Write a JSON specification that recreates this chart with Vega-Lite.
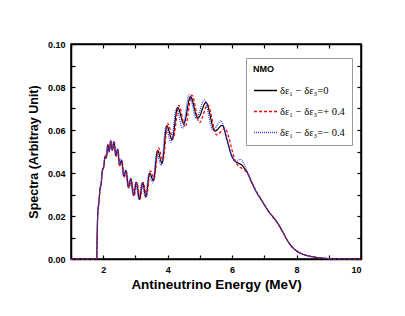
{
"$schema":"https://vega.github.io/schema/vega-lite/v6.json",
"width":290,"height":215,
"autosize":{"type":"none"},
"padding":{"left":71,"top":44,"right":44,"bottom":57},
"background":"white",
"config":{
"view":{"stroke":"black","strokeWidth":1.5},
"font":"Liberation Sans",
"axis":{"grid":false,"domainColor":"black","domainWidth":1.5,"tickColor":"black","tickWidth":1.2,"tickSize":-4,"labelFont":"Liberation Sans","labelFontWeight":"bold","labelFontSize":9,"labelColor":"black","labelPadding":10,"titleFont":"Liberation Sans","titleFontWeight":"bold","titleColor":"black","titleFontSize":13.5},
"legend":{"orient":"none","legendX":175,"legendY":14,"fillColor":"white","strokeColor":"#999999","padding":7,"titleFontSize":9,"titleFontWeight":"bold","titleColor":"black","titleFont":"Liberation Sans","titlePadding":4,"labelFont":"Liberation Serif","labelFontSize":10.5,"labelColor":"black","symbolType":"stroke","symbolStrokeWidth":1.3,"symbolSize":529,"rowPadding":3,"labelOffset":2,"labelLimit":200}
},
"data":{"values":[
{"s":"a","E":1.0,"v":0},{"s":"a","E":1.8,"v":0},{"s":"a","E":1.806,"v":0.006},{"s":"a","E":1.8325,"v":0.0215},{"s":"a","E":1.8661,"v":0.0265},{"s":"a","E":1.9008,"v":0.0325},{"s":"a","E":1.937,"v":0.035},{"s":"a","E":1.9744,"v":0.0414},{"s":"a","E":2.0134,"v":0.0425},{"s":"a","E":2.054,"v":0.0476},{"s":"a","E":2.0962,"v":0.047},{"s":"a","E":2.1402,"v":0.053},{"s":"a","E":2.186,"v":0.0499},{"s":"a","E":2.2339,"v":0.055},{"s":"a","E":2.2839,"v":0.0506},{"s":"a","E":2.3362,"v":0.0545},{"s":"a","E":2.391,"v":0.048},{"s":"a","E":2.4484,"v":0.051},{"s":"a","E":2.5086,"v":0.0435},{"s":"a","E":2.5719,"v":0.0459},{"s":"a","E":2.6384,"v":0.0385},{"s":"a","E":2.7084,"v":0.0411},{"s":"a","E":2.7823,"v":0.0332},{"s":"a","E":2.8604,"v":0.0373},{"s":"a","E":2.943,"v":0.0295},{"s":"a","E":3.0303,"v":0.0357},{"s":"a","E":3.123,"v":0.0278},{"s":"a","E":3.2217,"v":0.0355},{"s":"a","E":3.3268,"v":0.029},{"s":"a","E":3.439,"v":0.04},{"s":"a","E":3.559,"v":0.0365},{"s":"a","E":3.6876,"v":0.0505},{"s":"a","E":3.826,"v":0.0445},{"s":"a","E":3.975,"v":0.062},{"s":"a","E":4.1363,"v":0.0555},{"s":"a","E":4.311,"v":0.0705},{"s":"a","E":4.5013,"v":0.063},{"s":"a","E":4.709,"v":0.0755},{"s":"a","E":4.937,"v":0.0655},{"s":"a","E":5.188,"v":0.0728},{"s":"a","E":5.466,"v":0.0595},{"s":"a","E":5.7,"v":0.0622},{"s":"a","E":5.83,"v":0.056},{"s":"a","E":5.99,"v":0.0478},{"s":"a","E":6.09,"v":0.0455},{"s":"a","E":6.2,"v":0.0445},{"s":"a","E":6.3,"v":0.0437},{"s":"a","E":6.4,"v":0.0418},{"s":"a","E":6.5,"v":0.0392},{"s":"a","E":6.6,"v":0.0358},{"s":"a","E":6.7,"v":0.0327},{"s":"a","E":6.8,"v":0.03},{"s":"a","E":6.9,"v":0.0276},{"s":"a","E":7.0,"v":0.0252},{"s":"a","E":7.1,"v":0.0228},{"s":"a","E":7.2,"v":0.0208},{"s":"a","E":7.3,"v":0.019},{"s":"a","E":7.4,"v":0.017},{"s":"a","E":7.5,"v":0.0145},{"s":"a","E":7.6,"v":0.0118},{"s":"a","E":7.7,"v":0.009},{"s":"a","E":7.8,"v":0.0067},{"s":"a","E":7.9,"v":0.005},{"s":"a","E":8.0,"v":0.0037},{"s":"a","E":8.2,"v":0.0022},{"s":"a","E":8.4,"v":0.0013},{"s":"a","E":8.6,"v":0.0008},{"s":"a","E":8.8,"v":0.0004},{"s":"a","E":9.0,"v":0.0002},{"s":"a","E":9.3,"v":0},{"s":"a","E":10,"v":0},
{"s":"b","E":1.0,"v":0},{"s":"b","E":1.8,"v":0},{"s":"b","E":1.806,"v":0.006},{"s":"b","E":1.8392,"v":0.0225},{"s":"b","E":1.8729,"v":0.0275},{"s":"b","E":1.908,"v":0.0335},{"s":"b","E":1.9443,"v":0.036},{"s":"b","E":1.9821,"v":0.042},{"s":"b","E":2.0214,"v":0.043},{"s":"b","E":2.0623,"v":0.0483},{"s":"b","E":2.1048,"v":0.0474},{"s":"b","E":2.1492,"v":0.0533},{"s":"b","E":2.1954,"v":0.0501},{"s":"b","E":2.2437,"v":0.055},{"s":"b","E":2.2942,"v":0.0505},{"s":"b","E":2.347,"v":0.0542},{"s":"b","E":2.4023,"v":0.0477},{"s":"b","E":2.4602,"v":0.0506},{"s":"b","E":2.521,"v":0.0431},{"s":"b","E":2.5849,"v":0.0455},{"s":"b","E":2.6521,"v":0.038},{"s":"b","E":2.7229,"v":0.0405},{"s":"b","E":2.7976,"v":0.0329},{"s":"b","E":2.8765,"v":0.037},{"s":"b","E":2.96,"v":0.0293},{"s":"b","E":3.0484,"v":0.0356},{"s":"b","E":3.1423,"v":0.0278},{"s":"b","E":3.2422,"v":0.0357},{"s":"b","E":3.3487,"v":0.0295},{"s":"b","E":3.4623,"v":0.041},{"s":"b","E":3.584,"v":0.0375},{"s":"b","E":3.7145,"v":0.0517},{"s":"b","E":3.8549,"v":0.046},{"s":"b","E":4.0063,"v":0.063},{"s":"b","E":4.1701,"v":0.056},{"s":"b","E":4.348,"v":0.0715},{"s":"b","E":4.5414,"v":0.0615},{"s":"b","E":4.753,"v":0.0762},{"s":"b","E":4.9853,"v":0.0634},{"s":"b","E":5.2415,"v":0.0717},{"s":"b","E":5.5254,"v":0.0577},{"s":"b","E":5.78,"v":0.0608},{"s":"b","E":5.9,"v":0.0565},{"s":"b","E":6.0,"v":0.0505},{"s":"b","E":6.1,"v":0.0455},{"s":"b","E":6.2,"v":0.0432},{"s":"b","E":6.3,"v":0.0422},{"s":"b","E":6.4,"v":0.0412},{"s":"b","E":6.5,"v":0.0393},{"s":"b","E":6.6,"v":0.0362},{"s":"b","E":6.7,"v":0.033},{"s":"b","E":6.8,"v":0.0302},{"s":"b","E":6.9,"v":0.0278},{"s":"b","E":7.0,"v":0.0253},{"s":"b","E":7.1,"v":0.0229},{"s":"b","E":7.2,"v":0.0207},{"s":"b","E":7.3,"v":0.0188},{"s":"b","E":7.4,"v":0.0168},{"s":"b","E":7.5,"v":0.0143},{"s":"b","E":7.6,"v":0.0117},{"s":"b","E":7.7,"v":0.009},{"s":"b","E":7.8,"v":0.0068},{"s":"b","E":7.9,"v":0.0051},{"s":"b","E":8.0,"v":0.0038},{"s":"b","E":8.2,"v":0.0022},{"s":"b","E":8.4,"v":0.0013},{"s":"b","E":8.6,"v":0.0008},{"s":"b","E":8.8,"v":0.0004},{"s":"b","E":9.0,"v":0.0002},{"s":"b","E":9.3,"v":0},{"s":"b","E":10,"v":0},
{"s":"c","E":1.0,"v":0},{"s":"c","E":1.8,"v":0},{"s":"c","E":1.806,"v":0.006},{"s":"c","E":1.826,"v":0.0203},{"s":"c","E":1.8593,"v":0.0253},{"s":"c","E":1.8938,"v":0.0317},{"s":"c","E":1.9296,"v":0.0344},{"s":"c","E":1.9668,"v":0.0404},{"s":"c","E":2.0055,"v":0.042},{"s":"c","E":2.0457,"v":0.0471},{"s":"c","E":2.0876,"v":0.0467},{"s":"c","E":2.1312,"v":0.0526},{"s":"c","E":2.1767,"v":0.0497},{"s":"c","E":2.2242,"v":0.0549},{"s":"c","E":2.2737,"v":0.0506},{"s":"c","E":2.3256,"v":0.0547},{"s":"c","E":2.3798,"v":0.0483},{"s":"c","E":2.4367,"v":0.0514},{"s":"c","E":2.4963,"v":0.044},{"s":"c","E":2.559,"v":0.0465},{"s":"c","E":2.6248,"v":0.039},{"s":"c","E":2.6941,"v":0.0415},{"s":"c","E":2.7672,"v":0.0337},{"s":"c","E":2.8444,"v":0.0376},{"s":"c","E":2.926,"v":0.0298},{"s":"c","E":3.0124,"v":0.0359},{"s":"c","E":3.1041,"v":0.0279},{"s":"c","E":3.2015,"v":0.0354},{"s":"c","E":3.3053,"v":0.0287},{"s":"c","E":3.416,"v":0.0393},{"s":"c","E":3.5343,"v":0.0355},{"s":"c","E":3.661,"v":0.0492},{"s":"c","E":3.7975,"v":0.0435},{"s":"c","E":3.944,"v":0.0613},{"s":"c","E":4.103,"v":0.0543},{"s":"c","E":4.275,"v":0.07},{"s":"c","E":4.462,"v":0.0608},{"s":"c","E":4.666,"v":0.0765},{"s":"c","E":4.8897,"v":0.0654},{"s":"c","E":5.136,"v":0.074},{"s":"c","E":5.408,"v":0.0598},{"s":"c","E":5.65,"v":0.0643},{"s":"c","E":5.8,"v":0.0585},{"s":"c","E":5.95,"v":0.05},{"s":"c","E":6.05,"v":0.0462},{"s":"c","E":6.15,"v":0.0455},{"s":"c","E":6.25,"v":0.0464},{"s":"c","E":6.35,"v":0.0448},{"s":"c","E":6.45,"v":0.0415},{"s":"c","E":6.55,"v":0.0378},{"s":"c","E":6.65,"v":0.0343},{"s":"c","E":6.75,"v":0.0312},{"s":"c","E":6.85,"v":0.0287},{"s":"c","E":6.95,"v":0.0264},{"s":"c","E":7.05,"v":0.024},{"s":"c","E":7.15,"v":0.0218},{"s":"c","E":7.25,"v":0.02},{"s":"c","E":7.35,"v":0.0181},{"s":"c","E":7.45,"v":0.0158},{"s":"c","E":7.55,"v":0.0132},{"s":"c","E":7.65,"v":0.0104},{"s":"c","E":7.75,"v":0.0078},{"s":"c","E":7.85,"v":0.0058},{"s":"c","E":7.95,"v":0.0044},{"s":"c","E":8.1,"v":0.0029},{"s":"c","E":8.3,"v":0.0017},{"s":"c","E":8.5,"v":0.001},{"s":"c","E":8.7,"v":0.0006},{"s":"c","E":8.9,"v":0.0003},{"s":"c","E":9.1,"v":0.0001},{"s":"c","E":9.4,"v":0},{"s":"c","E":10,"v":0}
]},
"layer":[
{"mark":{"type":"line","interpolate":"monotone","strokeWidth":1.2},
"encoding":{
"x":{"field":"E","type":"quantitative","scale":{"domain":[1,10],"nice":false,"zero":false},"axis":{"orient":"bottom","values":[1,2,3,4,5,6,7,8,9,10],"labelExpr":"datum.value % 2 == 0 ? datum.label : ''","title":"Antineutrino Energy (MeV)","titlePadding":3}},
"y":{"field":"v","type":"quantitative","scale":{"domain":[0,0.1],"nice":false},"axis":{"orient":"left","values":[0,0.01,0.02,0.03,0.04,0.05,0.06,0.07,0.08,0.09,0.1],"format":".2f","labelExpr":"round(datum.value*100) % 2 == 0 ? datum.label : ''","title":"Spectra (Arbitray Unit)","titlePadding":7,"titleFontSize":12.5}},
"color":{"field":"s","type":"nominal","scale":{"domain":["a","b","c"],"range":["#000000","#ff0000","#2b3bff"]},"legend":{"title":"NMO","labelExpr":"datum.label == 'a' ? 'δε₁ − δε₃=0' : datum.label == 'b' ? 'δε₁ − δε₃=+ 0.4' : 'δε₁ − δε₃=− 0.4'"}},
"strokeDash":{"field":"s","type":"nominal","scale":{"domain":["a","b","c"],"range":[[1,0],[3,2],[1,1]]},"legend":{"title":"NMO","labelExpr":"datum.label == 'a' ? 'δε₁ − δε₃=0' : datum.label == 'b' ? 'δε₁ − δε₃=+ 0.4' : 'δε₁ − δε₃=− 0.4'"}}
}},
{"mark":{"type":"point","opacity":0},
"encoding":{
"x":{"field":"E","type":"quantitative","axis":{"orient":"top","values":[1,2,3,4,5,6,7,8,9,10],"labels":false,"title":null}},
"y":{"field":"v","type":"quantitative","axis":{"orient":"right","values":[0,0.01,0.02,0.03,0.04,0.05,0.06,0.07,0.08,0.09,0.1],"labels":false,"title":null}}
}}
],
"resolve":{"axis":{"x":"independent","y":"independent"}}
}
